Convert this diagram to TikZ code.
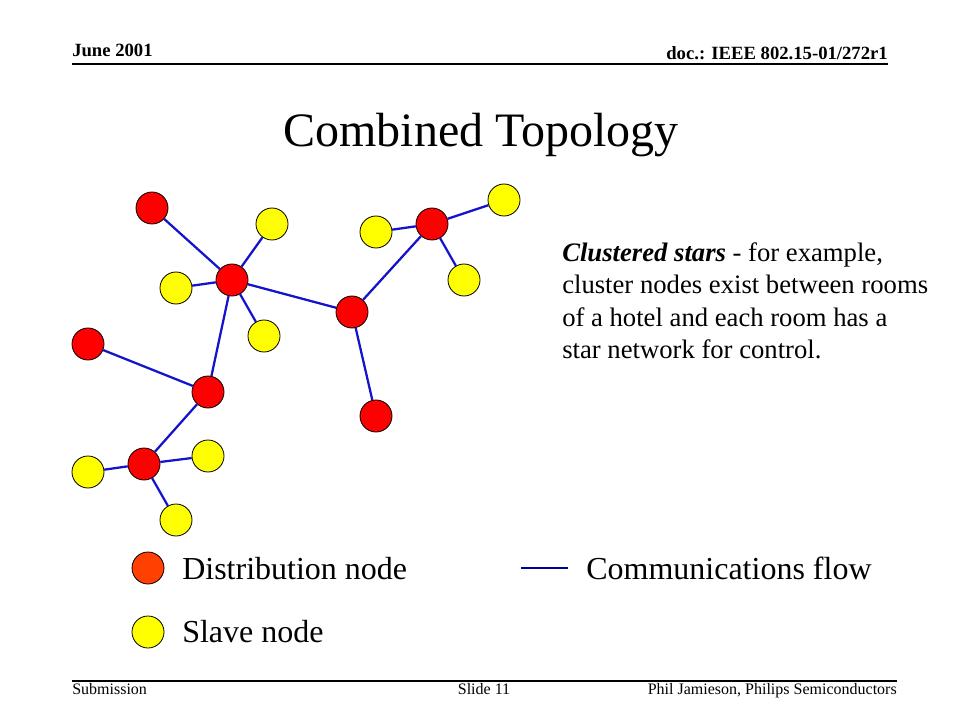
\documentclass[tikz,border=0pt]{standalone}
\usepackage{fontspec}
\setmainfont{Liberation Serif}
\definecolor{nodered}{RGB}{255,0,0}
\definecolor{nodeyellow}{RGB}{255,255,0}
\definecolor{legred}{RGB}{255,64,0}
\definecolor{linkblue}{RGB}{20,20,205}
\definecolor{legblue}{RGB}{0,0,150}
\begin{document}
\begin{tikzpicture}[x=0.75pt,y=-0.75pt,
  dist/.style={circle,draw=black,line width=0.6pt,fill=nodered,minimum size=24pt,inner sep=0pt},
  slave/.style={dist,fill=nodeyellow},
  legdist/.style={dist,fill=legred},
  link/.style={draw=linkblue,line width=1.7pt},
  txt/.style={inner sep=0pt,anchor=base west},
  rule/.style={draw=black,line width=1pt}]
\useasboundingbox[fill=white] (0,0) rectangle (960,720);

% header
\node[txt] (date) at (72,57) {\fontsize{14}{16}\selectfont\bfseries June 2001};
\node[inner sep=0pt,anchor=base east] (doc) at (888,60) {\fontsize{14}{16}\selectfont\bfseries doc.: IEEE 802.15-01/272r1};
\coordinate (hl) at (72,64);
\coordinate (hr) at (888,64);
\draw[rule] (hl) -- (hr);

% footer
\coordinate (fl) at (72,681);
\coordinate (fr) at (897,681);
\draw[rule] (fl) -- (fr);
\node[txt] (sub) at (72,694) {\fontsize{12}{14}\selectfont Submission};
\node[inner sep=0pt,anchor=base] (slide) at (484,694) {\fontsize{12}{14}\selectfont Slide 11};
\node[inner sep=0pt,anchor=base east] (auth) at (897,694) {\fontsize{12}{14}\selectfont Phil Jamieson,\ Philips\ Semiconductors};

% title
\node[inner sep=0pt,anchor=base] (title) at (481,147) {\fontsize{36}{42}\selectfont Combined Topology};

% network nodes
\node[dist] (R1) at (152,208) {};
\node[dist] (R2) at (232,280) {};
\node[dist] (R3) at (352,312) {};
\node[dist] (R4) at (432,224) {};
\node[dist] (R5) at (88,344) {};
\node[dist] (R6) at (208,392) {};
\node[dist] (R7) at (376,416) {};
\node[dist] (R8) at (144,464) {};
\node[slave] (Y1) at (272,224) {};
\node[slave] (Y2) at (176,288) {};
\node[slave] (Y3) at (264,336) {};
\node[slave] (Y4) at (376,232) {};
\node[slave] (Y5) at (504,200) {};
\node[slave] (Y6) at (464,280) {};
\node[slave] (Y7) at (208,456) {};
\node[slave] (Y8) at (88,472) {};
\node[slave] (Y9) at (176,520) {};

% links
\draw[link] (R1) -- (R2);
\draw[link] (R2) -- (Y1);
\draw[link] (R2) -- (Y2);
\draw[link] (R2) -- (Y3);
\draw[link] (R2) -- (R3);
\draw[link] (R2) -- (R6);
\draw[link] (R3) -- (R4);
\draw[link] (R3) -- (R7);
\draw[link] (R4) -- (Y4);
\draw[link] (R4) -- (Y5);
\draw[link] (R4) -- (Y6);
\draw[link] (R5) -- (R6);
\draw[link] (R6) -- (R8);
\draw[link] (R8) -- (Y7);
\draw[link] (R8) -- (Y8);
\draw[link] (R8) -- (Y9);

% description
\node[txt] (p1) at (562,262) {\fontsize{20}{24}\selectfont\textbf{\textit{Clustered stars}} - for example,};
\node[txt] (p2) at (562,294) {\fontsize{20}{24}\selectfont cluster nodes exist between rooms};
\node[txt] (p3) at (562,326) {\fontsize{20}{24}\selectfont of a hotel and each room has a};
\node[txt] (p4) at (562,358) {\fontsize{20}{24}\selectfont star network for control.};

% legend
\node[legdist] (LD) at (148,568) {};
\node[txt] (LDt) at (182,579) {\fontsize{24}{28}\selectfont Distribution node};
\node[slave] (LS) at (148,632) {};
\node[txt] (LSt) at (182,642) {\fontsize{24}{28}\selectfont Slave node};
\coordinate (LL1) at (521,568);
\coordinate (LL2) at (568,568);
\draw[draw=legblue,line width=1.5pt] (LL1) -- (LL2);
\node[txt] (LLt) at (586,579) {\fontsize{24}{28}\selectfont Communications\ flow};
\end{tikzpicture}
\end{document}
